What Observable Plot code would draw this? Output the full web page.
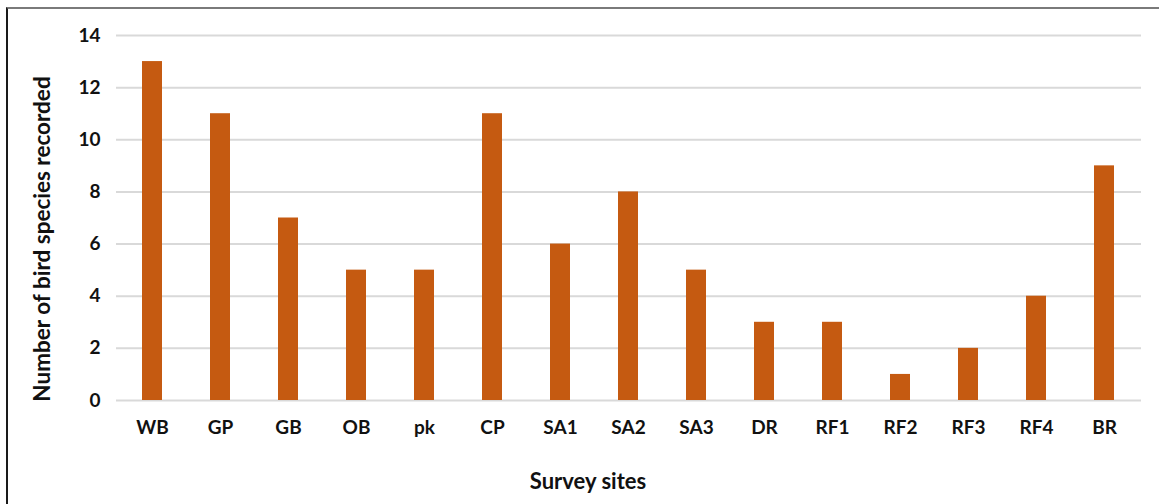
<!DOCTYPE html>
<html>
<head>
<meta charset="utf-8">
<script src="https://cdn.jsdelivr.net/npm/d3@7"></script>
<script src="https://cdn.jsdelivr.net/npm/@observablehq/plot@0.6"></script>
<style>
  html, body { margin: 0; padding: 0; background: #fff; }
  #wrap { position: relative; width: 1159px; height: 504px; overflow: hidden; }
  #frame { position: absolute; left: 6px; top: 7px; width: 1160px; height: 510px;
           border-top: 2px solid #7a7a7a; border-left: 2px solid #1a1a1a; box-sizing: border-box; }
  #chart { position: absolute; left: 0; top: 0; }
</style>
</head>
<body>
<div id="wrap"><div id="frame"></div><div id="chart"></div></div>
<script>
const sites = ["WB","GP","GB","OB","pk","CP","SA1","SA2","SA3","DR","RF1","RF2","RF3","RF4","BR"];
const species = [13,11,7,5,5,11,6,8,5,3,3,1,2,4,9];
const yTicks = [0,2,4,6,8,10,12,14];
const xTitle = "Survey sites";
const yTitle = "Number of bird species recorded";

const data = sites.map((s, i) => ({site: s, value: species[i]}));
const font = "Lato, 'Open Sans', sans-serif";

const chart = Plot.plot({
  width: 1159,
  height: 504,
  marginLeft: 116,
  marginRight: 18,
  marginTop: 35,
  marginBottom: 104,
  style: {fontFamily: font, fontSize: "19px", fontWeight: "bold", color: "#111", background: "transparent"},
  x: {domain: sites, paddingInner: 0.7, paddingOuter: 0.35, label: null},
  y: {domain: [0, 14], label: null},
  marks: [
    Plot.gridY(yTicks, {stroke: "#d9d9d9", strokeOpacity: 1, strokeWidth: 2}),
    Plot.barY(data, {x: "site", y: "value", fill: "#C55A11"}),
    Plot.axisY(yTicks, {tickSize: 0, tickPadding: 16, fontSize: 19, fontWeight: "bold", label: null}),
    Plot.axisX({tickSize: 0, tickPadding: 20, fontSize: 19, fontWeight: "bold", label: null}),
    Plot.text([xTitle], {frameAnchor: "bottom", textAnchor: "middle", lineAnchor: "middle",
      dx: -41, dy: 81, fontSize: 22, fontWeight: "bold", fill: "#111"}),
    Plot.text([yTitle], {frameAnchor: "left", textAnchor: "middle", lineAnchor: "middle",
      dx: -74, dy: 21, rotate: -90, fontSize: 22.5, fontWeight: "bold", fill: "#111"})
  ]
});
document.getElementById("chart").appendChild(chart);
</script>
</body>
</html>
